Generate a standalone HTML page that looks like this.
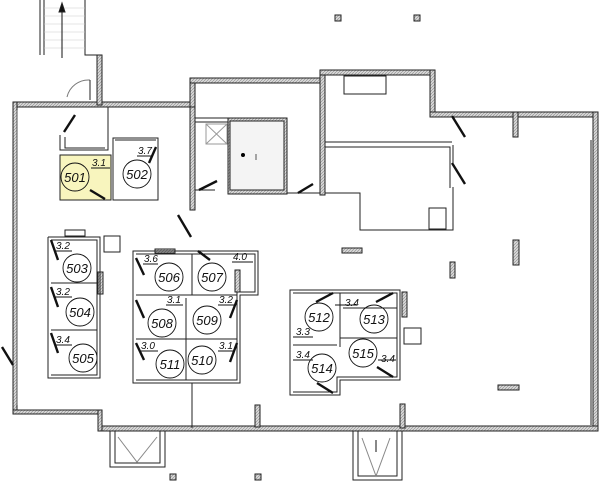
<!DOCTYPE html>
<html><head><meta charset="utf-8"><style>
html,body{margin:0;padding:0;background:#fff;width:600px;height:481px;overflow:hidden}
svg{display:block}
text{font-family:"Liberation Sans",sans-serif;font-style:italic;fill:#111}
</style></head><body>
<svg width="600" height="481" viewBox="0 0 600 481" xmlns="http://www.w3.org/2000/svg">
<defs>
<pattern id="h" width="3" height="3" patternUnits="userSpaceOnUse"><rect width="3" height="3" fill="#d8d8d8"/><path d="M0 3L3 0" stroke="#888" stroke-width="0.6"/></pattern>
</defs>
<g fill="url(#h)" stroke="#222" stroke-width="1">
<!-- outer walls -->
<rect x="13" y="102" width="180" height="5"/>
<rect x="190" y="78" width="5" height="29"/>
<rect x="190" y="78" width="135" height="5"/>
<rect x="320" y="70" width="115" height="5"/>
<rect x="430" y="70" width="5" height="47"/>
<rect x="430" y="112" width="168" height="5"/>
<rect x="593" y="112" width="5" height="319"/>
<rect x="100" y="426" width="498" height="5"/>
<rect x="13" y="102" width="4" height="310"/>
<rect x="13" y="410" width="89" height="4"/>
<rect x="98" y="410" width="4" height="21"/>
<rect x="97" y="55" width="5" height="50"/>
<!-- lobby walls -->
<rect x="190" y="107" width="5" height="103"/>
<rect x="320" y="75" width="5" height="120"/>
<rect x="228" y="118" width="59" height="76"/>
<rect x="214" y="102" width="3" height="0"/>
<!-- columns -->
<rect x="335" y="15" width="6" height="6"/>
<rect x="414" y="15" width="6" height="6"/>
<rect x="513" y="112" width="5" height="25"/>
<rect x="342" y="248" width="20" height="5"/>
<rect x="450" y="262" width="5" height="16"/>
<rect x="513" y="240" width="6" height="25"/>
<rect x="498" y="385" width="21" height="5"/>
<rect x="400" y="404" width="5" height="24"/>
<rect x="255" y="405" width="5" height="22"/>
<rect x="170" y="474" width="6" height="6"/>
<rect x="255" y="474" width="6" height="6"/>
<rect x="98" y="272" width="5" height="22"/>
<rect x="155" y="249" width="20" height="4"/>
<rect x="235" y="270" width="5" height="22"/>
<rect x="402" y="292" width="5" height="25"/>
</g>
<rect x="230" y="121" width="54" height="69" fill="#f4f4f4" stroke="#222"/>
<circle cx="243" cy="155" r="2" fill="#000"/>
<line x1="256" y1="154" x2="256" y2="160" stroke="#555"/>
<g fill="none" stroke="#222" stroke-width="1">
<!-- stairs -->
<path d="M40 0V55M44 0V55M85 0V55H97"/>
<g stroke="#ccc" stroke-width="0.6"><path d="M44 8H85M44 16H85M44 24H85M44 32H85M44 40H85M44 48H85"/></g>
<path d="M62 58V6" stroke="#111"/>
<path d="M59 12L62 3L65 12Z" fill="#111"/>
<!-- entry -->
<path d="M60 135V150H108V107M65 137V148H105"/>
<path d="M67 97A22 22 0 0 1 90 80" stroke="#777"/>
<path d="M90 80V100"/>
<!-- 501/502 -->
<rect x="60" y="155" width="51" height="45" fill="#f8f5be"/>
<path d="M113 138H158V200H113Z"/>
<path d="M115 140H156"/>
<!-- lobby -->
<path d="M195 118H228M195 122H228M195 190H215M287 193H320"/>
<rect x="206" y="124" width="21" height="20" stroke="#999"/>
<path d="M206 124L227 144M227 124L206 144" stroke="#999"/>
<!-- right block -->
<path d="M325 142H452M325 147H450V188M453 145V163M325 193H360V230H453V187"/>
<rect x="344" y="76" width="42" height="18"/>
<rect x="429" y="208" width="17" height="21"/>
<!-- right wall inner -->
<path d="M591 140V425"/>
<!-- 503-505 -->
<path d="M48 237H100V378H48V237M51 240H97V375H51M51 283H97M51 330H97"/>
<rect x="104" y="236" width="16" height="16"/>
<rect x="65" y="230" width="20" height="6"/>
<!-- 506-511 -->
<path d="M133 251H258V295H240V383H133ZM136 254H255V292H237V380H136M192 254V295M136 295H237M136 339H237M186 298V380"/>
<path d="M192 383V428"/>
<!-- 512-515 -->
<path d="M290 290H400V380H340V395H290ZM293 293H397V377H337V392H293M340 293V347M293 345H337M340 338H397M343 308H397"/>
<rect x="404" y="328" width="17" height="16"/>
<!-- bottom pits -->
<path d="M110 431V467H165V431M115 431V463H160V431"/>
<path d="M118 437L137 462L157 437" stroke="#888"/>
<path d="M353 431V480H402V431M358 431V476H397V431"/>
<path d="M362 438L376 476L390 438" stroke="#888"/>
<path d="M376 440V452" stroke="#111"/>
<!-- left window lines -->
<path d="M17 110V405" stroke="#555"/>
</g>
<!-- doors -->
<g stroke="#111" stroke-width="2.4">
<line x1="64" y1="132" x2="75" y2="115"/>
<line x1="90" y1="190" x2="105" y2="199"/>
<line x1="149" y1="163" x2="156" y2="147"/>
<line x1="199" y1="190" x2="217" y2="181"/>
<line x1="298" y1="193" x2="313" y2="184"/>
<line x1="178" y1="215" x2="191" y2="237"/>
<line x1="452" y1="116" x2="465" y2="137"/>
<line x1="452" y1="163" x2="465" y2="184"/>
<line x1="2" y1="347" x2="13" y2="365"/>
<line x1="51" y1="240" x2="58" y2="260"/>
<line x1="51" y1="287" x2="58" y2="307"/>
<line x1="51" y1="333" x2="58" y2="353"/>
<line x1="136" y1="258" x2="144" y2="275"/>
<line x1="198" y1="251" x2="210" y2="260"/>
<line x1="136" y1="300" x2="144" y2="318"/>
<line x1="237" y1="300" x2="230" y2="318"/>
<line x1="136" y1="343" x2="144" y2="360"/>
<line x1="237" y1="343" x2="230" y2="362"/>
<line x1="316" y1="302" x2="333" y2="293"/>
<line x1="376" y1="302" x2="393" y2="293"/>
<line x1="377" y1="367" x2="393" y2="377"/>
<line x1="317" y1="383" x2="333" y2="393"/>
</g>
<!-- labels -->
<g fill="none" stroke="#111" stroke-width="0.9">
<circle cx="75" cy="177" r="14"/><circle cx="137" cy="174" r="14"/>
<circle cx="77" cy="268" r="14"/><circle cx="80" cy="312" r="14"/><circle cx="83" cy="358" r="14"/>
<circle cx="169" cy="277" r="14"/><circle cx="212" cy="277" r="14"/>
<circle cx="162" cy="323" r="14"/><circle cx="207" cy="320" r="14"/>
<circle cx="170" cy="364" r="14"/><circle cx="202" cy="360" r="14"/>
<circle cx="319" cy="317" r="14"/><circle cx="374" cy="319" r="14"/>
<circle cx="322" cy="368" r="14"/><circle cx="363" cy="353" r="14"/>
<path d="M91 168H110M137 156H152M55 251H72M55 297H72M55 345H72M143 264H158M232 262H253M166 305H183M218 305H236M140 351H158M218 351H234M293 337H313M335 305H356M293 360H313M378 360H396"/>
</g>
<g font-size="13" text-anchor="middle">
<text x="75" y="182">501</text><text x="137" y="179">502</text>
<text x="77" y="273">503</text><text x="80" y="317">504</text><text x="83" y="363">505</text>
<text x="169" y="282">506</text><text x="212" y="282">507</text>
<text x="162" y="328">508</text><text x="207" y="325">509</text>
<text x="170" y="369">511</text><text x="202" y="365">510</text>
<text x="319" y="322">512</text><text x="374" y="324">513</text>
<text x="322" y="373">514</text><text x="363" y="358">515</text>
</g>
<g font-size="10">
<text x="92" y="166">3.1</text><text x="138" y="154">3.7</text>
<text x="56" y="249">3.2</text><text x="56" y="295">3.2</text><text x="56" y="343">3.4</text>
<text x="144" y="262">3.6</text><text x="233" y="260">4.0</text>
<text x="167" y="303">3.1</text><text x="219" y="303">3.2</text>
<text x="141" y="349">3.0</text><text x="219" y="349">3.1</text>
<text x="296" y="335">3.3</text><text x="345" y="306">3.4</text>
<text x="296" y="358">3.4</text><text x="381" y="362">3.4</text>
</g>
</svg>
</body></html>
